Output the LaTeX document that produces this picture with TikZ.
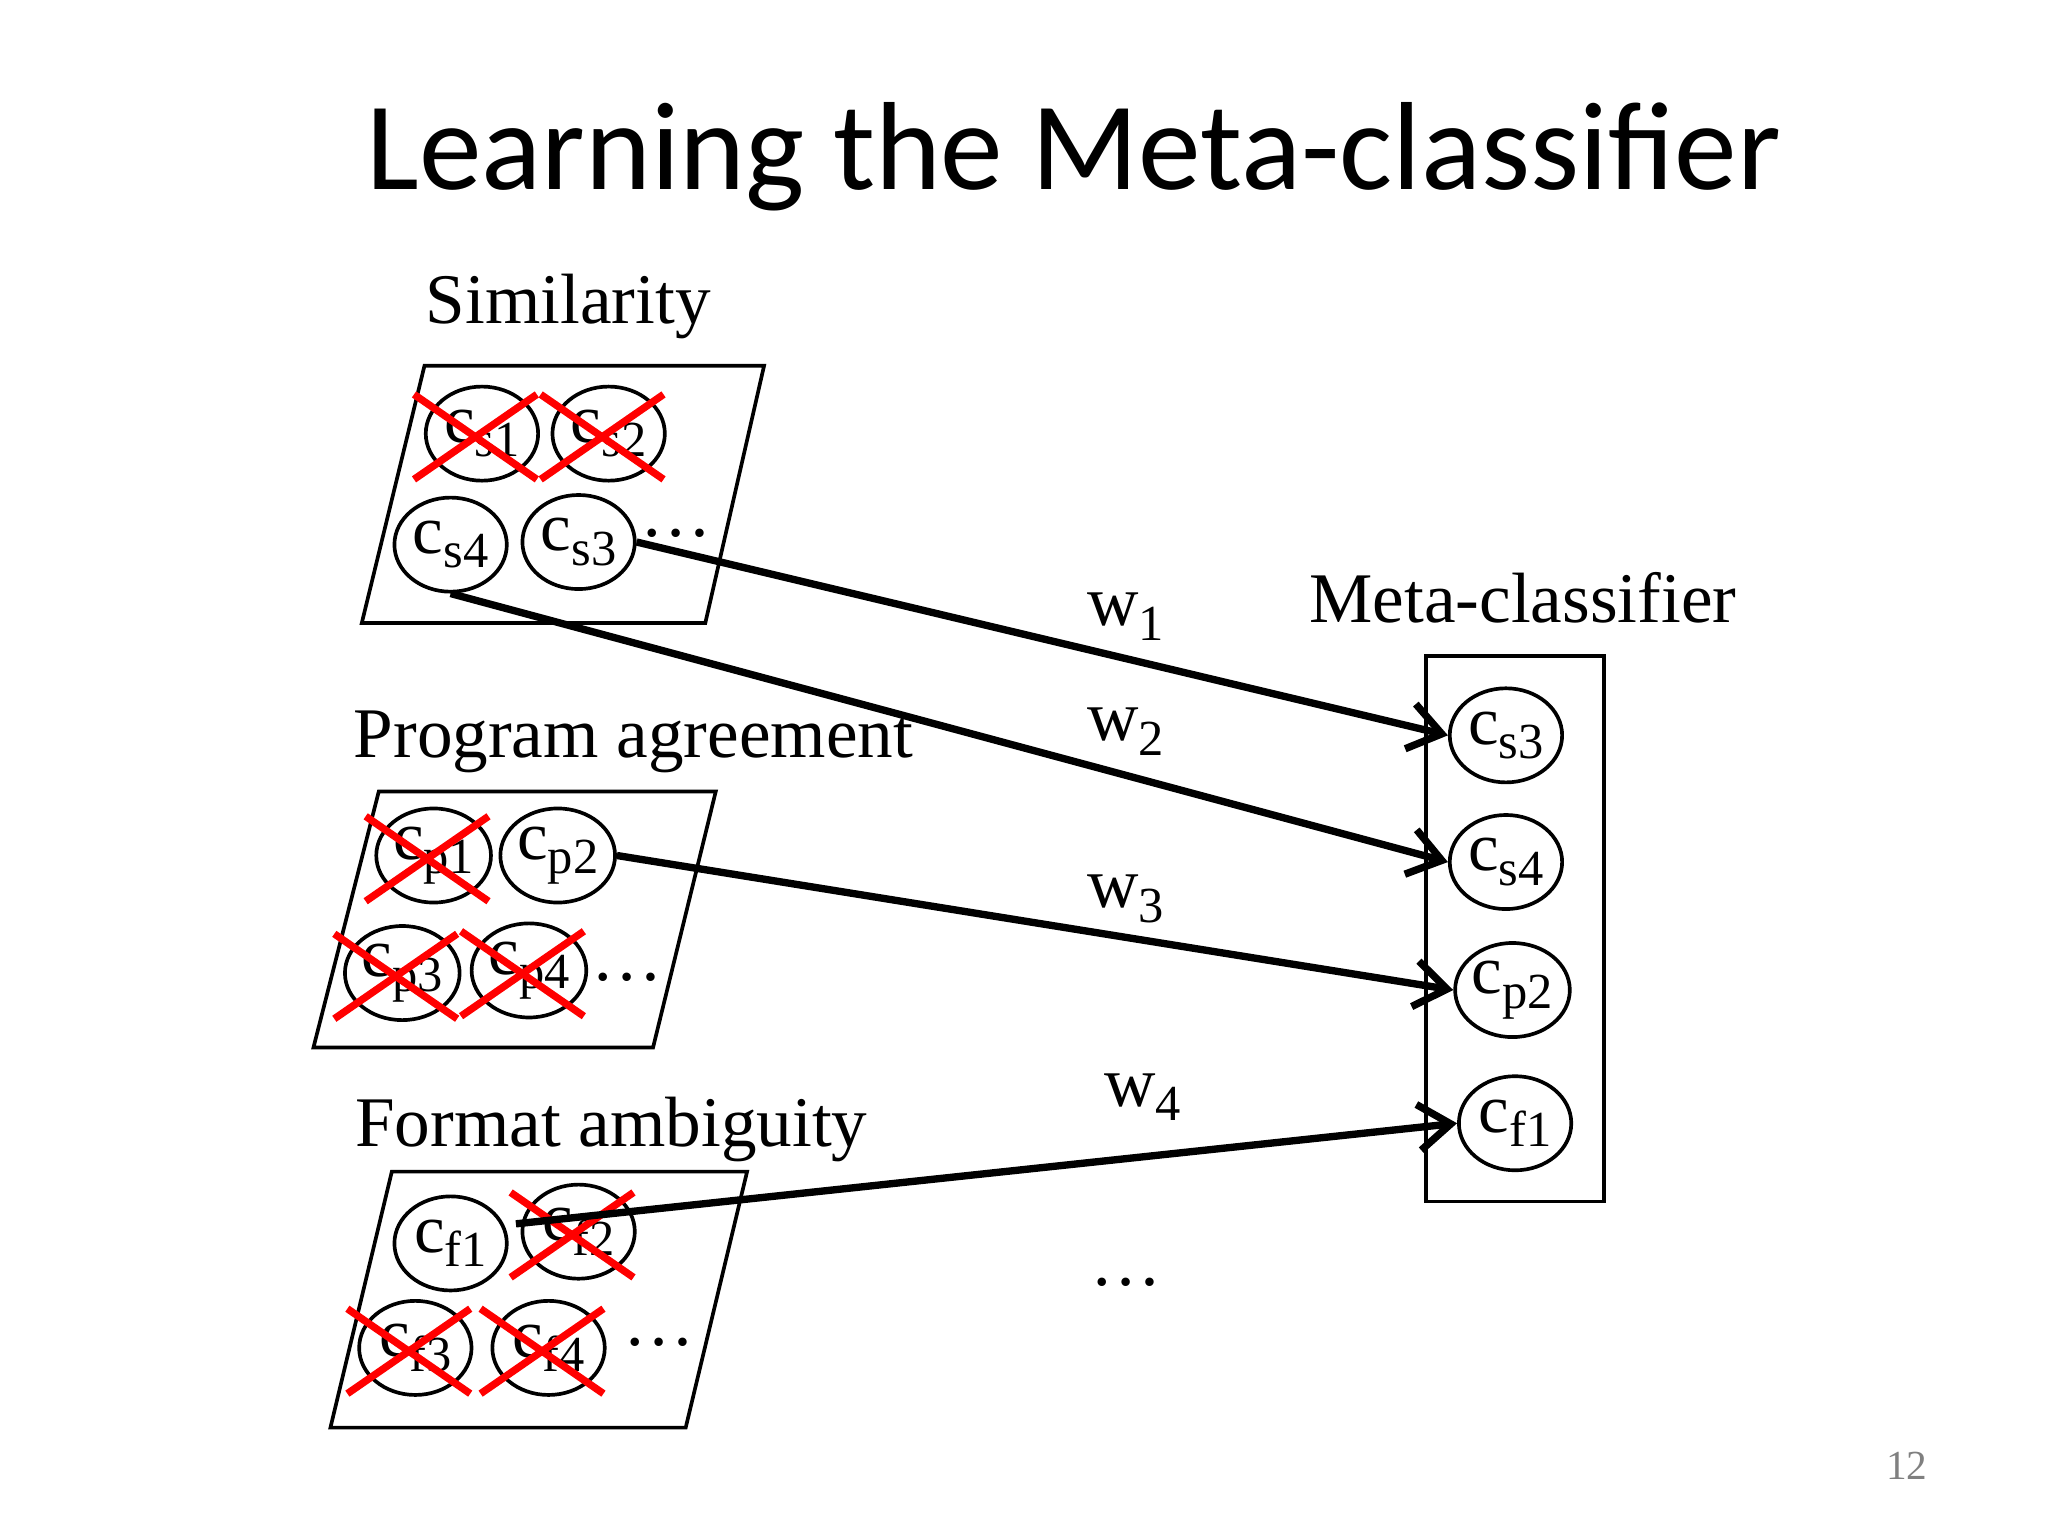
\documentclass[tikz,border=0pt]{standalone}
\usepackage{fontspec}
\setmainfont{Liberation Serif}
\newfontfamily\titlefont{Carlito}
\usetikzlibrary{arrows.meta,shapes.geometric}
\newcommand{\cs}[2]{#1\raisebox{-0.45ex}{\fontsize{11}{12}\selectfont #2}}
\begin{document}
\begin{tikzpicture}[x=0.01cm,y=-0.01cm,
  el/.style={draw,ellipse,line width=0.8pt,minimum width=0.86cm,minimum height=0.72cm,inner sep=0pt,font=\fontsize{15}{17}\selectfont},
  box/.style={draw,line width=0.8pt},
  lab/.style={font=\fontsize{15.5}{18}\selectfont},
  xx/.style={red,line width=1.6pt},
  arr/.style={line width=1.6pt,-{Straight Barb[length=7pt,width=10pt]}}]
\useasboundingbox (0,0) rectangle (1568,1176);
\node[font=\titlefont\fontsize{27.3}{32}\selectfont] (title) at (822,120) {Learning the Meta-classifier};
% labels
\node[lab] (lsim) at (435,235) {Similarity};
\node[lab] (lprog) at (485,568) {Program agreement};
\node[lab] (lfmt) at (468,865) {Format ambiguity};
\node[lab] (lmeta) at (1166,458) {Meta-classifier};
% containers
\draw[box] (277,477) -- (540,477) -- (585,280) -- (325,280) -- cycle;
\draw[box] (240,802) -- (500,802) -- (548,606) -- (290,606) -- cycle;
\draw[box] (253,1093) -- (525,1093) -- (572,897) -- (300,897) -- cycle;
\draw[box] (1092,502) rectangle (1228,920);
% similarity
\node[el] (s1) at (369,332) {\cs{c}{s1}};
\node[el] (s2) at (466,332) {\cs{c}{s2}};
\node[el] (s4) at (345,417) {\cs{c}{s4}};
\node[el] (s3) at (443,415) {\cs{c}{s3}};
\node[lab] (sd) at (518,408) {\dots};
% program
\node[el] (p1) at (332,655) {\cs{c}{p1}};
\node[el] (p2) at (427,655) {\cs{c}{p2}};
\node[el] (p3) at (308,745) {\cs{c}{p3}};
\node[el] (p4) at (405,743) {\cs{c}{p4}};
\node[lab] (pd) at (480,748) {\dots};
% format
\node[el] (f1) at (345,952) {\cs{c}{f1}};
\node[el] (f2) at (443,943) {\cs{c}{f2}};
\node[el] (f3) at (318,1032) {\cs{c}{f3}};
\node[el] (f4) at (420,1032) {\cs{c}{f4}};
\node[lab] (fd) at (505,1028) {\dots};
% meta
\node[el] (m1) at (1153,563) {\cs{c}{s3}};
\node[el] (m2) at (1153,660) {\cs{c}{s4}};
\node[el] (m3) at (1158,758) {\cs{c}{p2}};
\node[el] (m4) at (1160,860) {\cs{c}{f1}};
% crosses
\foreach \n in {s1,s2,p1,p3,p4,f2,f3,f4}{
  \draw[xx] ([xshift=-0.52cm,yshift=0.3cm]\n.center) -- ([xshift=0.42cm,yshift=-0.35cm]\n.center);
  \draw[xx] ([xshift=-0.52cm,yshift=-0.35cm]\n.center) -- ([xshift=0.42cm,yshift=0.3cm]\n.center);
}
% arrows
\draw[arr] (s3.east) -- (m1.west);
\draw[arr] (s4.south) -- (m2.west);
\draw[arr] (p2.east) -- (m3.west);
\coordinate (fs) at (395,937);
\draw[arr] (fs) -- (m4.west);
% weights
\node[lab] (w1) at (862,472) {w\raisebox{-0.45ex}{\fontsize{11}{12}\selectfont 1}};
\node[lab] (w2) at (862,560) {w\raisebox{-0.45ex}{\fontsize{11}{12}\selectfont 2}};
\node[lab] (w3) at (862,688) {w\raisebox{-0.45ex}{\fontsize{11}{12}\selectfont 3}};
\node[lab] (w4) at (875,840) {w\raisebox{-0.45ex}{\fontsize{11}{12}\selectfont 4}};
\node[lab] (wd) at (862,982) {\dots};
\node[gray,font=\fontsize{9}{10}\selectfont] (pg) at (1460,1122) {12};
\end{tikzpicture}
\end{document}
